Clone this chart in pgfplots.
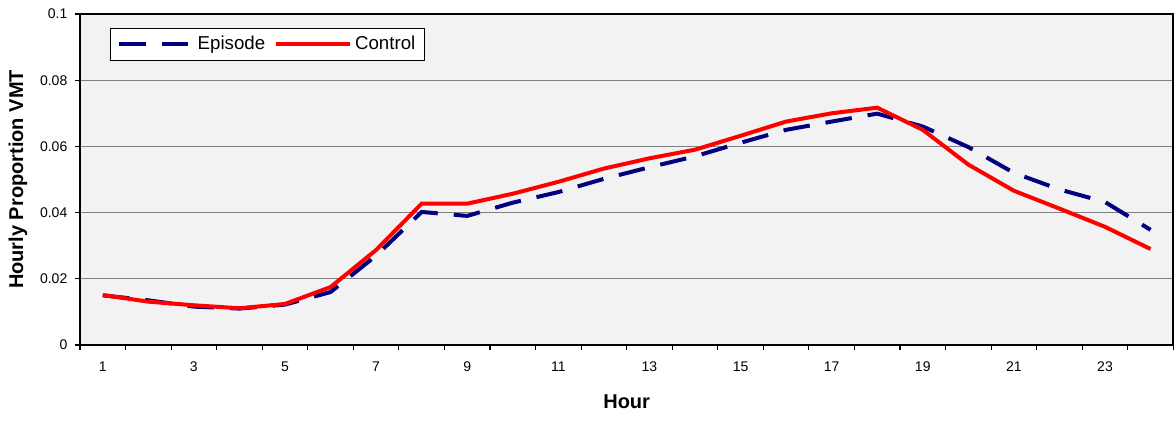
\documentclass[border=0pt]{standalone}
\usepackage{pgfplots}
\pgfplotsset{compat=1.18}
\usepackage{fontspec}
\setmainfont{Liberation Sans}
\definecolor{bgc}{HTML}{F2F2F2}
\definecolor{navy}{HTML}{000080}
\definecolor{gridc}{HTML}{808080}
\begin{document}
\begin{tikzpicture}
\path[use as bounding box] (-60pt,-57.75pt) rectangle (821.25pt,258.75pt);
\begin{axis}[
  at={(0,0)}, anchor=south west,
  scale only axis, width=820pt, height=248.25pt,
  xmin=0.5, xmax=24.5, ymin=0, ymax=0.1,
  axis background/.style={fill=bgc},
  axis line style={black, line width=1.3pt},
  xtick={1,3,...,23},
  xticklabels={1,3,5,7,9,11,13,15,17,19,21,23},
  minor xtick={0.5,1.5,...,24.5},
  major x tick style={draw=none},
  minor x tick style={black, line width=0.8pt},
  minor tick length=4pt,
  ytick={0,0.02,0.04,0.06,0.08,0.1},
  yticklabels={0,0.02,0.04,0.06,0.08,0.1},
  y tick style={black, line width=0.8pt},
  major tick length=4pt,
  tick align=outside, tick pos=left,
  ymajorgrids, grid style={gridc, line width=0.8pt},
  xticklabel style={font=\fontsize{10.5}{12}\selectfont, yshift=-5pt},
  yticklabel style={font=\fontsize{10.5}{12}\selectfont, xshift=-2pt},
  xlabel={Hour}, ylabel={Hourly Proportion VMT},
  xlabel style={font=\bfseries\fontsize{15}{18}\selectfont, at={(axis description cs:0.5,-0.1725)}, anchor=center},
  ylabel style={font=\bfseries\fontsize{15}{18}\selectfont, at={(axis description cs:-0.0567,0.5)}, anchor=center, rotate=0},
  legend style={at={(rel axis cs:0,1)}, anchor=north west, xshift=22.5pt, yshift=-10.5pt,
    draw=black, line width=0.6pt, fill=white, font=\fontsize{14}{16}\selectfont,
    inner xsep=5pt, inner ysep=4pt,
    /tikz/every even column/.append style={column sep=5pt}},
  legend columns=2,
  legend image code/.code={\draw[#1, line width=3pt] (0cm,0cm) -- (1.95cm,0cm);},
  legend cell align=left,
]
\addplot[navy, line width=3pt, dash pattern=on 20pt off 12pt] coordinates {
(1,0.0150) (2,0.0135) (3,0.0116) (4,0.0110) (5,0.0122) (6,0.0160) (7,0.0270) (8,0.0402)
(9,0.0390) (10,0.0430) (11,0.0462) (12,0.0502) (13,0.0537) (14,0.0570) (15,0.0611) (16,0.0650)
(17,0.0675) (18,0.0699) (19,0.0660) (20,0.0598) (21,0.0520) (22,0.0470) (23,0.0432) (24,0.0348)
};
\addlegendentry{Episode}
\addplot[red, line width=3pt] coordinates {
(1,0.0151) (2,0.0131) (3,0.0120) (4,0.0111) (5,0.0124) (6,0.0175) (7,0.0287) (8,0.0427)
(9,0.0427) (10,0.0457) (11,0.0493) (12,0.0533) (13,0.0564) (14,0.0590) (15,0.0632) (16,0.0675)
(17,0.0700) (18,0.0717) (19,0.0650) (20,0.0545) (21,0.0466) (22,0.0412) (23,0.0357) (24,0.0290)
};
\addlegendentry{Control}
\end{axis}
\end{tikzpicture}
\end{document}
